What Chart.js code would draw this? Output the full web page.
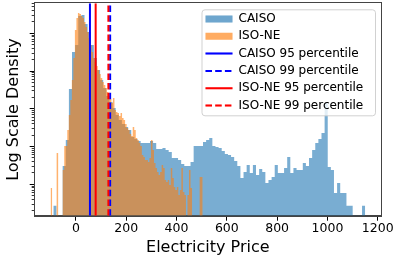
<!DOCTYPE html>
<html>
<head>
<meta charset="utf-8">
<script src="https://cdn.jsdelivr.net/npm/chart.js@4.4.1/dist/chart.umd.min.js"></script>
<style>
  html, body { margin: 0; padding: 0; background: #fff; }
  canvas { display: block; }
</style>
</head>
<body>
<canvas id="priceChart" width="394" height="261"></canvas>
<script>
// histograms (density, log y), 100 bins each
const caisoStart = -90;
const caisoBinWidth = 12.4;
const caisoDensity = [
  2.7e-8, 0, 0, 3.05e-7, 1.49e-6, 3.35e-5, 3.2e-4, 4.9e-4, 2.87e-3, 3.05e-3,
  1.76e-3, 1.08e-3, 4.9e-4, 2.22e-4, 1.07e-4, 5.8e-5, 3.56e-5, 2.18e-5, 1.51e-5, 1.05e-5,
  6.85e-6, 5.05e-6, 3.96e-6, 3.3e-6, 2.74e-6, 1.79e-6, 1.58e-6, 1.4e-6, 1.24e-6, 1.24e-6,
  1.24e-6, 1.4e-6, 1.24e-6, 8.6e-7, 8.6e-7, 9.15e-7, 8.1e-7, 7.2e-7, 4.97e-7, 4.97e-7,
  4.4e-7, 3.45e-7, 3.05e-7, 3.05e-7, 3.9e-7, 1.03e-6, 1.03e-6, 1.03e-6, 1.32e-6, 1.49e-6,
  1.68e-6, 1.03e-6, 9.7e-7, 9.15e-7, 7.6e-7, 6.35e-7, 5.97e-7, 5.3e-7, 4.14e-7, 3.05e-7,
  1.47e-7, 2.12e-7, 3.24e-7, 1.99e-7, 3.24e-7, 1.76e-7, 2.54e-7, 2.12e-7, 1.08e-7, 1.3e-7,
  1.56e-7, 3.24e-7, 1.99e-7, 1.99e-7, 2.7e-7, 5.3e-7, 1.99e-7, 2.7e-7, 2.39e-7, 2.39e-7,
  3.67e-7, 3.05e-7, 4.97e-7, 8.1e-7, 1.24e-6, 1.58e-6, 2.29e-6, 1.42e-5, 2.87e-7, 2.39e-7,
  5.9e-8, 1.08e-7, 5.9e-8, 5.9e-8, 2.7e-8, 2.7e-8, 0, 0, 0, 2.7e-8
];

const isoneStart = -101;
const isoneBinWidth = 6.05;
const isoneDensity = [
  8.0e-8, 0, 0, 0, 6.75e-7, 0, 0, 0, 2.39e-7, 1.03e-6,
  1.03e-6, 2.74e-6, 6.85e-6, 1.71e-5, 5.8e-5, 2.22e-4, 1.22e-3, 2.54e-3, 3.45e-3, 3.24e-3,
  2.87e-3, 2.54e-3, 1.99e-3, 1.47e-3, 1.08e-3, 7.5e-4, 4.9e-4, 3.2e-4, 2.22e-4, 1.74e-4,
  1.36e-4, 1.07e-4, 8.4e-5, 6.5e-5, 5.1e-5, 4.27e-5, 3.56e-5, 2.79e-5, 2.18e-5, 1.82e-5,
  1.42e-5, 1.93e-5, 9.3e-6, 8.2e-6, 7.7e-6, 6.45e-6, 7.7e-6, 5.7e-6, 5.05e-6, 3.96e-6,
  3.1e-6, 2.74e-6, 2.15e-6, 1.9e-6, 3.3e-6, 2.74e-6, 1.68e-6, 1.49e-6, 1.24e-6, 1.03e-6,
  5.97e-7, 5.3e-7, 4.4e-7, 4.4e-7, 3.9e-7, 4.97e-7, 1.49e-6, 8.1e-7, 3.67e-7, 2.7e-7,
  2.12e-7, 1.76e-7, 2.12e-7, 3.24e-7, 2.7e-7, 1.3e-7, 1.15e-7, 1.3e-7, 9.6e-8, 2.7e-7,
  1.47e-7, 8.5e-8, 7.1e-8, 8.5e-8, 5.2e-8, 7.1e-8, 2.7e-7, 6.25e-8, 5.2e-8, 0,
  5.2e-8, 2.39e-7, 8.0e-8, 0, 0, 0, 0, 0, 1.56e-7, 1.56e-7
];

const percentileLabels = ['CAISO 95 percentile', 'CAISO 99 percentile', 'ISO-NE 95 percentile', 'ISO-NE 99 percentile'];
const percentileValues = [55.7, 136, 78.4, 129];

const xTickValues = [0, 200, 400, 600, 800, 1000, 1200];

// axis limits
const xMin = -164, xMax = 1213;
const yMin = 1.47e-8, yMax = 6.24e-3;

// styles
const percentileColors = ['#0000ff', '#0000ff', '#ff0000', '#ff0000'];
const percentileDashes = [[], [6.5, 3.2], [], [6.5, 3.2]];
const FONT = 'DejaVu Sans';
Chart.defaults.font.family = FONT;
Chart.defaults.color = '#000';

function histPoints(start, width, density) {
  const empty = yMin / 10; // empty bins fall below the axis
  const pts = density.map((d, i) => ({ x: start + i * width, y: d > 0 ? d : empty }));
  pts.push({ x: start + density.length * width, y: empty });
  return pts;
}

const datasets = [
  {
    label: 'CAISO', isHist: true,
    data: histPoints(caisoStart, caisoBinWidth, caisoDensity),
    stepped: true, fill: 'start',
    backgroundColor: 'rgba(31,119,180,0.6)', borderColor: 'rgba(0,0,0,0)', borderWidth: 0,
    pointRadius: 0, order: 10
  },
  {
    label: 'ISO-NE', isHist: true,
    data: histPoints(isoneStart, isoneBinWidth, isoneDensity),
    stepped: true, fill: 'start',
    backgroundColor: 'rgba(255,127,14,0.6)', borderColor: 'rgba(0,0,0,0)', borderWidth: 0,
    pointRadius: 0, order: 9
  }
];
// later lines sit on top (lower order is drawn last)
percentileLabels.forEach((lab, i) => {
  datasets.push({
    label: lab, isHist: false,
    data: [{ x: percentileValues[i], y: yMin }, { x: percentileValues[i], y: yMax }],
    borderColor: percentileColors[i], backgroundColor: 'rgba(0,0,0,0)',
    borderWidth: 2, borderDash: percentileDashes[i], fill: false,
    pointRadius: 0, order: 4 - i
  });
});

// legend inside the axes, with a matplotlib-like frame on top of the bars
const legendFrame = {
  id: 'legendFrame',
  afterLayout(chart) {
    const lg = chart.legend, a = chart.chartArea;
    lg.left = a.left + 165.5;
    lg.top = a.top + 4.4;
    lg.right = lg.left + lg.width;
    lg.bottom = lg.top + lg.height;
  },
  afterDatasetsDraw(chart) {
    const ctx = chart.ctx, a = chart.chartArea, lg = chart.legend;
    ctx.save();
    // axes frame
    ctx.strokeStyle = '#444';
    ctx.lineWidth = 1;
    ctx.strokeRect(Math.round(a.left) - 0.5, Math.round(a.top) - 0.5,
      Math.round(a.right) - Math.round(a.left) + 1, Math.round(a.bottom) - Math.round(a.top) + 1);
    // legend box
    const bx = lg.left + 1.3, by = lg.top + 1.6, bw = a.right - 6 - bx, bh = 106;
    ctx.beginPath();
    ctx.roundRect(bx + 0.5, by + 0.5, bw, bh, 3);
    ctx.fillStyle = 'rgba(255,255,255,0.8)';
    ctx.fill();
    ctx.strokeStyle = 'rgba(204,204,204,0.9)';
    ctx.stroke();
    ctx.restore();
    lg.draw();
  }
};

new Chart(document.getElementById('priceChart'), {
  type: 'line',
  data: { datasets: datasets },
  options: {
    responsive: false,
    devicePixelRatio: 1,
    animation: false,
    events: [],
    layout: { padding: { top: 3.3, right: 13, left: 0, bottom: 0 } },
    plugins: {
      tooltip: { enabled: false },
      legend: {
        position: 'chartArea',
        align: 'start',
        labels: {
          usePointStyle: true,
          pointStyleWidth: 27,
          boxHeight: 7,
          padding: 5.3,
          font: { size: 12, family: FONT },
          color: '#000',
          generateLabels: (chart) => chart.data.datasets.map((ds, i) => ({
            text: ds.label,
            datasetIndex: i,
            hidden: false,
            fillStyle: ds.isHist ? ds.backgroundColor : 'rgba(0,0,0,0)',
            strokeStyle: ds.isHist ? 'rgba(0,0,0,0)' : ds.borderColor,
            lineWidth: ds.isHist ? 0 : ds.borderWidth,
            lineDash: ds.isHist ? [] : ds.borderDash,
            lineCap: 'butt',
            pointStyle: ds.isHist ? 'rect' : 'line',
            fontColor: '#000'
          }))
        }
      }
    },
    scales: {
      x: {
        type: 'linear',
        min: xMin, max: xMax,
        afterBuildTicks: (axis) => { axis.ticks = xTickValues.map(v => ({ value: v })); },
        afterFit: (s) => { s.height = 45.3; s.paddingLeft = 0; s.paddingRight = 0; },
        ticks: {
          font: { size: 12.5 }, color: '#000', padding: 0.8, maxRotation: 0, autoSkip: false,
          callback: (v) => String(v)
        },
        grid: { drawOnChartArea: false, drawTicks: true, tickLength: 5, tickColor: '#000', tickWidth: 1 },
        border: { display: true, color: '#444', width: 1 },
        title: { display: true, text: 'Electricity Price', font: { size: 16 }, color: '#000', padding: { top: 0, bottom: 3.9 } }
      },
      y: {
        type: 'logarithmic',
        min: yMin, max: yMax,
        afterBuildTicks: (axis) => {
          const t = [];
          for (let e = -9; e <= -2; e++) {
            for (let m = 1; m <= 9; m++) {
              const v = m * Math.pow(10, e);
              if (v >= yMin && v <= yMax) t.push({ value: v, major: m === 1 });
            }
          }
          axis.ticks = t;
        },
        afterFit: (s) => { s.width = 34.7; s.paddingTop = 0; s.paddingBottom = 0; },
        ticks: { display: false },
        grid: {
          drawOnChartArea: false, drawTicks: true, tickLength: 5, tickColor: '#000',
          tickWidth: (c) => (c.tick && c.tick.major) ? 1 : 0.8,
          // tick lines run from the outer end to the axis: minor ones keep only the inner 3px
          tickBorderDash: (c) => (c.tick && c.tick.major) ? [] : [3, 2],
          tickBorderDashOffset: (c) => (c.tick && c.tick.major) ? 0 : 3
        },
        border: { display: true, color: '#444', width: 1 },
        title: { display: true, text: 'Log Scale Density', font: { size: 16 }, color: '#000', padding: { top: 4.7, bottom: 0 } }
      }
    }
  },
  plugins: [legendFrame]
});
</script>
</body>
</html>
